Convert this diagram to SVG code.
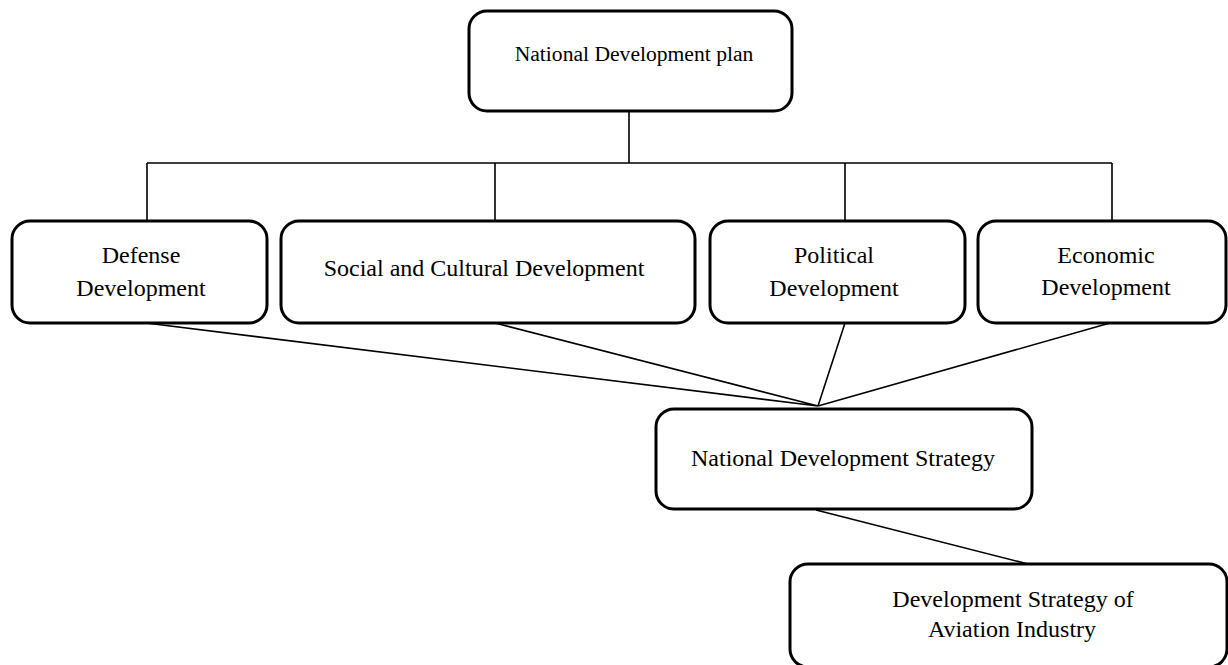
<svg xmlns="http://www.w3.org/2000/svg" width="1228" height="665" viewBox="0 0 1228 665">
<style>
.box{fill:#fff;stroke:#000;stroke-width:3}
.t{font-family:"Liberation Serif","Times New Roman",serif;font-size:24px;fill:#000;text-anchor:middle}
.c{stroke:#000;stroke-width:1.6;fill:none}
</style>
<rect width="1228" height="665" fill="#fff"/>
<g id="connectors">
<path class="c" d="M629 112V163M147 163H1112M147 163V221M495 163V221M845 163V221M1112 163V221"/>
<path class="c" d="M146 323L818 406M495 323L818 406M845 323L818 406M1110 323L818 406M816 510L1028 564"/>
</g>
<g id="n1"><rect class="box" x="469" y="11" width="323" height="100" rx="18"/><text class="t" style="font-size:21.6px" x="634" y="61">National Development plan</text></g>
<g id="n2"><rect class="box" x="12" y="221" width="255" height="102" rx="18"/><text class="t" x="141" y="263">Defense</text><text class="t" x="141" y="296">Development</text></g>
<g id="n3"><rect class="box" x="281" y="221" width="414" height="102" rx="18"/><text class="t" x="484" y="276">Social and Cultural Development</text></g>
<g id="n4"><rect class="box" x="710" y="221" width="255" height="102" rx="18"/><text class="t" x="834" y="263">Political</text><text class="t" x="834" y="296">Development</text></g>
<g id="n5"><rect class="box" x="978" y="221" width="248" height="102" rx="18"/><text class="t" x="1106" y="263">Economic</text><text class="t" x="1106" y="295">Development</text></g>
<g id="n6"><rect class="box" x="656" y="409" width="376" height="100" rx="18"/><text class="t" x="843" y="466">National Development Strategy</text></g>
<g id="n7"><rect class="box" x="790" y="564" width="437" height="103" rx="18"/><text class="t" x="1013" y="607">Development Strategy of</text><text class="t" x="1012" y="637">Aviation Industry</text></g>
</svg>
